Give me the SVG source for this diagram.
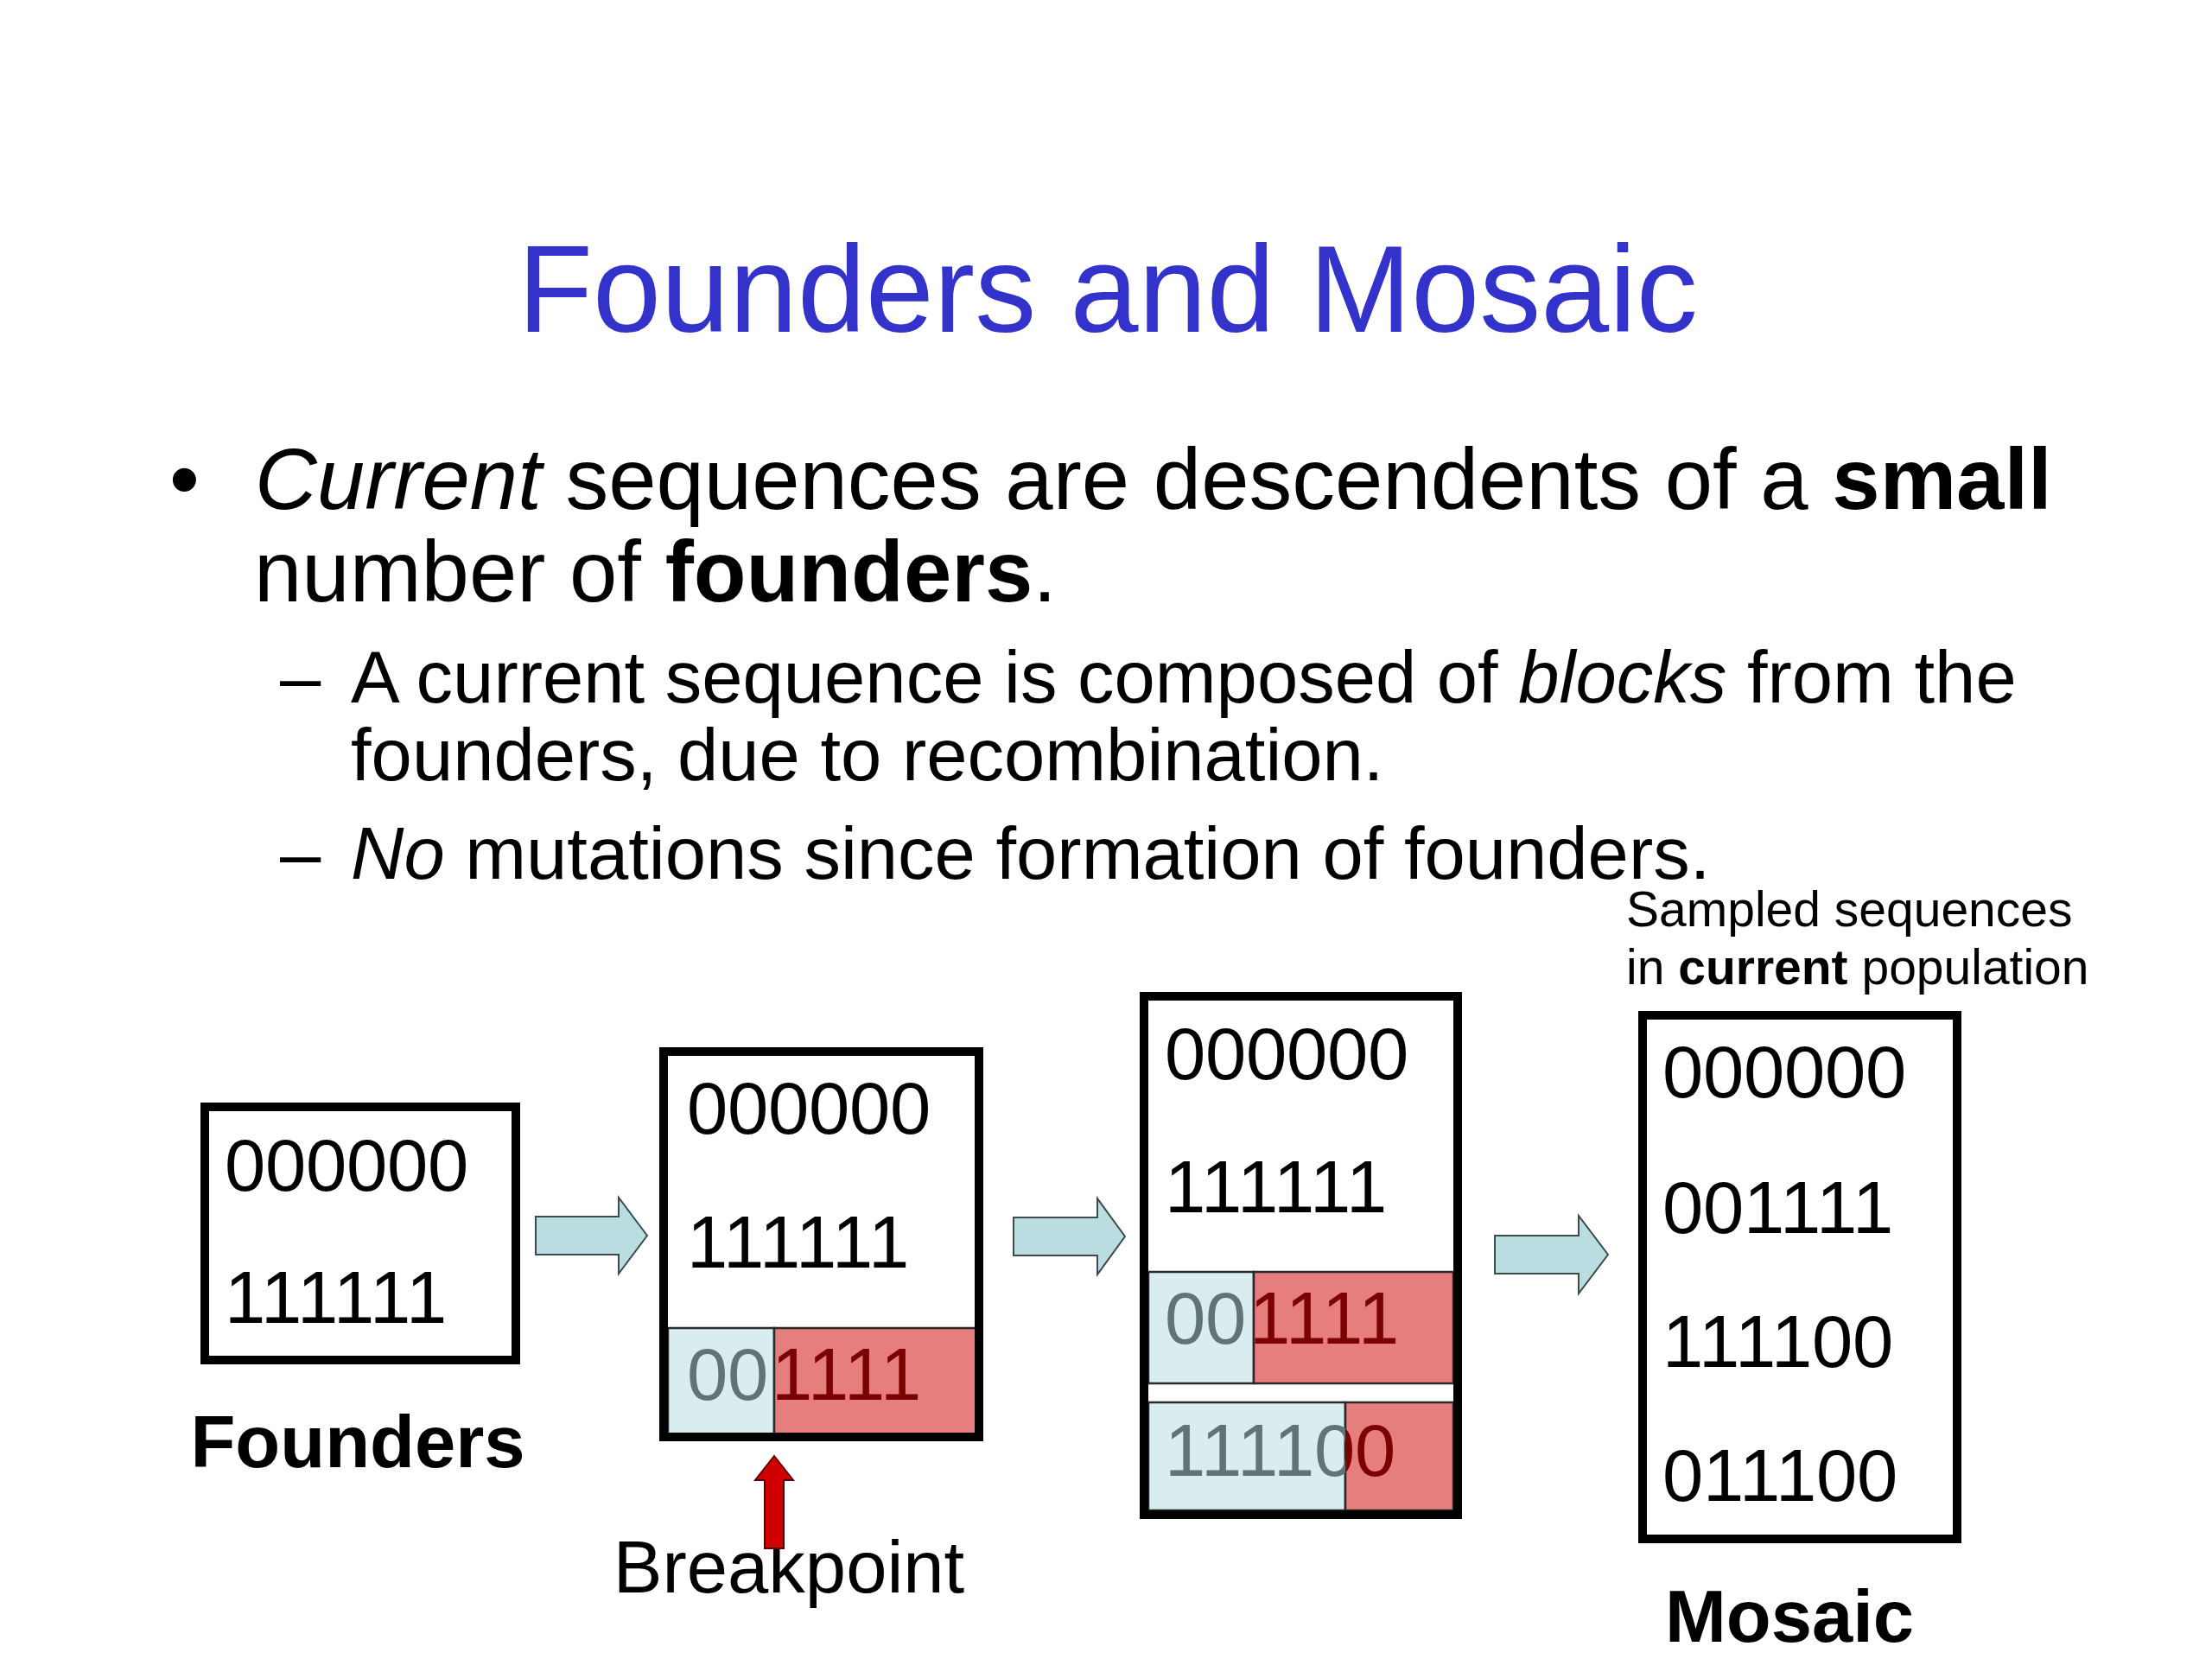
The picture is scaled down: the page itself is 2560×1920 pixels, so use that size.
<svg xmlns="http://www.w3.org/2000/svg" width="2560" height="1920" viewBox="0 0 2560 1920">
<style>
  text { font-family: "Liberation Sans", Arial, sans-serif; }
  .title { font-size: 142px; fill: #3333CC; }
  .body { font-size: 99.5px; fill: #000; }
  .sub { font-size: 85px; fill: #000; }
  .note { font-size: 57px; fill: #000; }
  .dig { font-size: 85px; fill: #000; }
  .lab { font-size: 85px; fill: #000; }
  .b { font-weight: bold; }
  .i { font-style: italic; }
  .box { fill: #fff; stroke: #000; stroke-width: 10; }
  .blue { fill: #D9ECEF; stroke: #2a2a2a; stroke-width: 2.5; }
  .red { fill: #E67E7E; stroke: #2a2a2a; stroke-width: 2.5; }
  .gtxt { fill: #5E7478; }
  .rtxt { fill: #7B0000; }
  .arrow { fill: #B9DDE1; stroke: #3c4a4c; stroke-width: 2; }
  .bparrow { fill: #D00000; stroke: #5a0000; stroke-width: 2; }
</style>
<defs>
  <clipPath id="c2b"><rect x="773" y="1537" width="123" height="126"/></clipPath>
  <clipPath id="c2r"><rect x="896" y="1537" width="237" height="126"/></clipPath>
  <clipPath id="c3b1"><rect x="1329" y="1472" width="122" height="129"/></clipPath>
  <clipPath id="c3r1"><rect x="1451" y="1472" width="231" height="129"/></clipPath>
  <clipPath id="c3b2"><rect x="1329" y="1623" width="228" height="125"/></clipPath>
  <clipPath id="c3r2"><rect x="1557" y="1623" width="125" height="125"/></clipPath>
</defs>
<rect width="2560" height="1920" fill="#fff"/>

<g id="title">
  <text class="title" x="1282" y="384" text-anchor="middle">Founders and Mosaic</text>
</g>

<g id="bullets">
  <text class="body" x="196" y="589">•</text>
  <text class="body" x="295" y="589"><tspan class="i">Current</tspan> sequences are descendents of a <tspan class="b">small</tspan></text>
  <text class="body" x="294" y="696">number of <tspan class="b">founders</tspan>.</text>
  <text class="sub" x="324" y="813">–</text>
  <text class="sub" x="406" y="813">A current sequence is composed of <tspan class="i">blocks</tspan> from the</text>
  <text class="sub" x="406" y="903">founders, due to recombination.</text>
  <text class="sub" x="324" y="1017">–</text>
  <text class="sub" x="406" y="1017"><tspan class="i">No</tspan> mutations since formation of founders.</text>
</g>

<g id="note">
  <text class="note" x="1882" y="1072">Sampled sequences</text>
  <text class="note" x="1882" y="1139">in <tspan class="b">current</tspan> population</text>
</g>

<g id="founders">
  <rect class="box" x="237" y="1281" width="360" height="293"/>
  <text class="dig" x="260 307 354 401 448 495" y="1378">000000</text>
  <text class="dig" x="260 302 344 386 428 470" y="1531">111111</text>
  <text class="lab b" x="414" y="1698" text-anchor="middle">Founders</text>
</g>

<g id="generation1">
  <rect class="box" x="768" y="1217" width="365" height="446"/>
  <text class="dig" x="795 842 889 936 983 1030" y="1312">000000</text>
  <text class="dig" x="795 837 879 921 963 1005" y="1467">111111</text>
  <rect class="blue" x="773" y="1537" width="123" height="126"/>
  <rect class="red" x="896" y="1537" width="237" height="126"/>
  <text class="dig gtxt" clip-path="url(#c2b)" x="795 842 893 935 977 1019" y="1620">001111</text>
  <text class="dig rtxt" clip-path="url(#c2r)" x="795 842 893 935 977 1019" y="1620">001111</text>
  <rect x="768" y="1217" width="365" height="446" fill="none" stroke="#000" stroke-width="10"/>
</g>

<g id="generation2">
  <rect class="box" x="1324" y="1153" width="363" height="600"/>
  <text class="dig" x="1348 1395 1442 1489 1536 1583" y="1249">000000</text>
  <text class="dig" x="1348 1390 1432 1474 1516 1558" y="1403">111111</text>
  <rect class="blue" x="1329" y="1472" width="122" height="129"/>
  <rect class="red" x="1451" y="1472" width="231" height="129"/>
  <text class="dig gtxt" clip-path="url(#c3b1)" x="1348 1395 1446 1488 1530 1572" y="1555">001111</text>
  <text class="dig rtxt" clip-path="url(#c3r1)" x="1348 1395 1446 1488 1530 1572" y="1555">001111</text>
  <rect class="blue" x="1329" y="1623" width="228" height="125"/>
  <rect class="red" x="1557" y="1623" width="125" height="125"/>
  <text class="dig gtxt" clip-path="url(#c3b2)" x="1348 1390 1432 1474 1521 1568" y="1708">111100</text>
  <text class="dig rtxt" clip-path="url(#c3r2)" x="1348 1390 1432 1474 1521 1568" y="1708">111100</text>
  <rect x="1324" y="1153" width="363" height="600" fill="none" stroke="#000" stroke-width="10"/>
</g>

<g id="mosaic">
  <rect class="box" x="1901" y="1175" width="364" height="606"/>
  <text class="dig" x="1924 1971 2018 2065 2112 2159" y="1270">000000</text>
  <text class="dig" x="1924 1971 2018 2060 2102 2144" y="1427">001111</text>
  <text class="dig" x="1924 1966 2008 2050 2097 2144" y="1582">111100</text>
  <text class="dig" x="1924 1971 2013 2055 2102 2149" y="1737">011100</text>
  <text class="lab b" x="2071" y="1900" text-anchor="middle">Mosaic</text>
</g>

<g id="breakpoint-label">
  <text class="lab" x="913" y="1843" text-anchor="middle">Breakpoint</text>
</g>

<g id="connectors">
  <polygon class="arrow" points="620,1408 716,1408 716,1386 749,1430 716,1474 716,1452 620,1452"/>
  <polygon class="arrow" points="1173,1409 1270,1409 1270,1387 1302,1431 1270,1475 1270,1453 1173,1453"/>
  <polygon class="arrow" points="1730,1430 1827,1430 1827,1407 1861,1452 1827,1497 1827,1474 1730,1474"/>
  <polygon class="bparrow" points="896,1685 918,1713 907,1713 907,1792 885,1792 885,1713 874,1713"/>
</g>
</svg>
